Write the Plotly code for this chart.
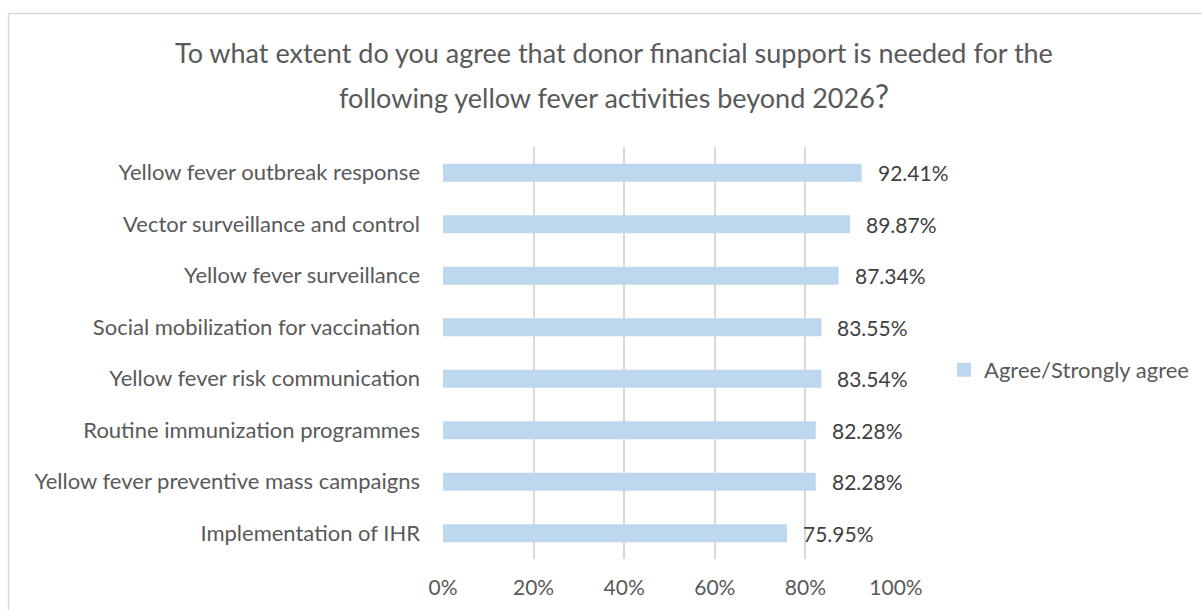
import plotly.graph_objects as go

categories = [
    "Yellow fever outbreak response",
    "Vector surveillance and control",
    "Yellow fever surveillance",
    "Social mobilization for vaccination",
    "Yellow fever risk communication",
    "Routine immunization programmes",
    "Yellow fever preventive mass campaigns",
    "Implementation of IHR",
]
values = [92.41, 89.87, 87.34, 83.55, 83.54, 82.28, 82.28, 75.95]
labels = ["92.41%", "89.87%", "87.34%", "83.55%", "83.54%", "82.28%", "82.28%", "75.95%"]
series_name = "Agree/Strongly agree"
tick_vals = [0, 20, 40, 60, 80, 100]
tick_text = ["0%", "20%", "40%", "60%", "80%", "100%"]
title_lines = [
    "To what extent do you agree that donor financial support is needed for the",
    "following yellow fever activities beyond 2026<span style='font-size:32px'>?</span>",
]

FONT = "Lato"
TXT = "#595959"
BAR = "#BDD7EE"

L, R, T, B = 443, 1202 - 896, 147, 610 - 559
W, H = 1202, 610
pw, ph = W - L - R, H - T - B

fig = go.Figure()
fig.add_trace(go.Bar(
    y=categories, x=values, orientation="h", name=series_name,
    marker=dict(color=BAR, line=dict(width=0)),
    width=0.35,
    showlegend=False,
))
# legend entry with a larger square swatch
fig.add_trace(go.Scatter(
    x=[None], y=[None], mode="markers", name=series_name,
    marker=dict(symbol="square", size=14, color=BAR),
    showlegend=True, hoverinfo="skip",
))

def px_x(x):
    return (x - L) / pw

def px_y(y):
    return (H - B - y) / ph

shapes = [
    dict(type="line", xref="paper", yref="paper", x0=px_x(8.5), x1=px_x(1210), y0=px_y(13.5), y1=px_y(13.5),
         line=dict(color="#D9D9D9", width=1.5)),
    dict(type="line", xref="paper", yref="paper", x0=px_x(8.5), x1=px_x(8.5), y0=px_y(13.5), y1=px_y(620),
         line=dict(color="#D9D9D9", width=1.5)),
]

annotations = [
    dict(text=title_lines[0], xref="paper", yref="paper", x=px_x(614), y=px_y(52),
         xanchor="center", yanchor="middle", showarrow=False,
         font=dict(family=FONT, size=27, color=TXT)),
    dict(text=title_lines[1], xref="paper", yref="paper", x=px_x(614), y=px_y(95),
         xanchor="center", yanchor="middle", showarrow=False,
         font=dict(family=FONT, size=27, color=TXT)),
]
for c, v, t in zip(categories, values, labels):
    annotations.append(dict(text=t, x=v, y=c, xref="x", yref="y", xanchor="left", yanchor="middle",
                            xshift=14, showarrow=False,
                            font=dict(family=FONT, size=21, color="#404040")))

fig.update_layout(
    width=W, height=H,
    margin=dict(l=L, r=R, t=T, b=B, pad=0, autoexpand=False),
    paper_bgcolor="white", plot_bgcolor="white",
    shapes=shapes, annotations=annotations,
    xaxis=dict(range=[0, 100], tickvals=tick_vals, ticktext=tick_text,
               showgrid=True, gridcolor="#D9D9D9", gridwidth=1.5,
               zeroline=False, showline=False, ticks="",
               tickfont=dict(family=FONT, size=21, color=TXT), ticklabelstandoff=14),
    yaxis=dict(autorange="reversed", showgrid=False, zeroline=False, showline=False,
               ticks="", ticklabelstandoff=22,
               tickfont=dict(family=FONT, size=22, color=TXT)),
    legend=dict(x=px_x(944), y=px_y(370), xanchor="left", yanchor="middle",
                font=dict(family=FONT, size=22, color=TXT), bgcolor="rgba(0,0,0,0)",
                itemwidth=30, itemsizing="trace"),
    showlegend=True,
)

fig.write_html("out.html", config={"displayModeBar": False},
               post_script="document.body.style.margin='0';document.body.style.overflow='hidden';")
